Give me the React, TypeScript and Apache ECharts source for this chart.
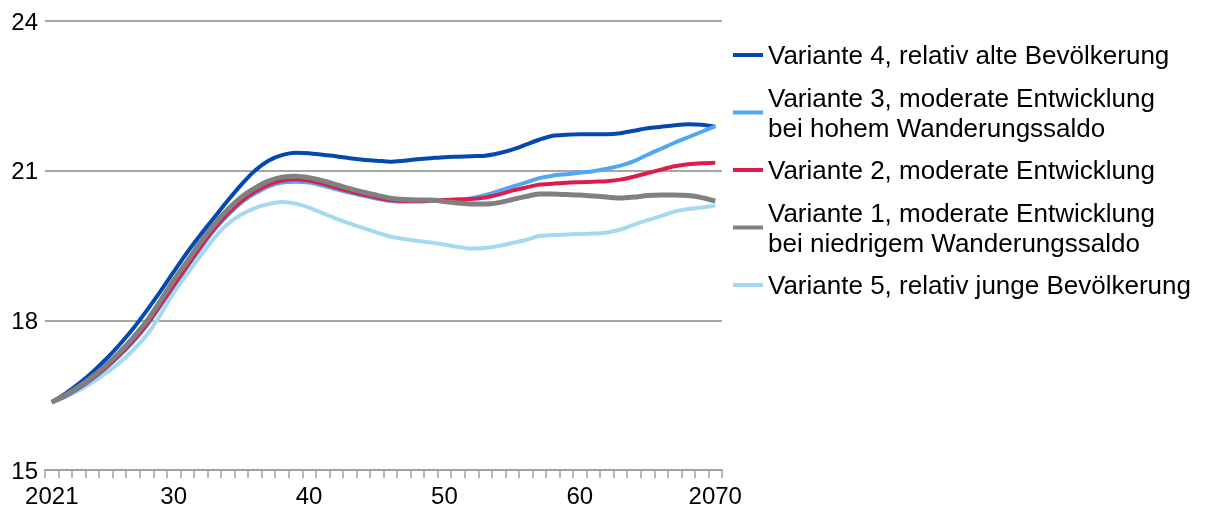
import React, { useEffect, useRef } from "react";
import * as echarts from "echarts";

const years: number[] = [];
for (let y = 2021; y <= 2070; y++) years.push(y);

const seriesNames = [
  "Variante 4, relativ alte Bevölkerung",
  "Variante 3, moderate Entwicklung\nbei hohem Wanderungssaldo",
  "Variante 2, moderate Entwicklung",
  "Variante 1, moderate Entwicklung\nbei niedrigem Wanderungssaldo",
  "Variante 5, relativ junge Bevölkerung",
];

const v4 = [
  16.36, 16.53, 16.73, 16.96, 17.22, 17.51, 17.83, 18.19, 18.57, 18.97,
  19.36, 19.72, 20.06, 20.40, 20.72, 21.0, 21.2, 21.31, 21.36, 21.35,
  21.32, 21.29, 21.25, 21.22, 21.2, 21.18, 21.2, 21.23, 21.25, 21.27,
  21.28, 21.29, 21.3, 21.35, 21.42, 21.52, 21.62, 21.7, 21.72, 21.73,
  21.73, 21.73, 21.75, 21.8, 21.85, 21.88, 21.91, 21.93, 21.92, 21.88,
];
const v3 = [
  16.36, 16.47, 16.63, 16.82, 17.04, 17.29, 17.57, 17.89, 18.28, 18.68,
  19.07, 19.45, 19.81, 20.11, 20.36, 20.54, 20.68, 20.76, 20.78, 20.76,
  20.7, 20.63, 20.56, 20.5, 20.44, 20.39, 20.38, 20.38, 20.39, 20.4,
  20.42, 20.45, 20.51, 20.59, 20.68, 20.76, 20.85, 20.9, 20.93, 20.96,
  20.99, 21.04, 21.1, 21.19, 21.32, 21.44, 21.56, 21.67, 21.78, 21.89,
];
const v2 = [
  16.36, 16.49, 16.65, 16.84, 17.06, 17.31, 17.59, 17.91, 18.3, 18.7,
  19.09, 19.48, 19.84, 20.14, 20.39, 20.58, 20.72, 20.8, 20.83, 20.8,
  20.74, 20.66, 20.59, 20.52, 20.46, 20.41, 20.39, 20.39, 20.4, 20.41,
  20.42, 20.43, 20.46, 20.52, 20.6, 20.66, 20.72, 20.74, 20.76, 20.77,
  20.78, 20.79, 20.82, 20.88, 20.95, 21.02, 21.09, 21.13, 21.15, 21.16,
];
const v1 = [
  16.36, 16.5, 16.67, 16.87, 17.1, 17.36, 17.65, 17.98, 18.38, 18.8,
  19.18, 19.57, 19.92, 20.22, 20.47, 20.65, 20.79, 20.87, 20.89, 20.86,
  20.8, 20.72, 20.64, 20.57, 20.51, 20.45, 20.42, 20.41, 20.41, 20.38,
  20.35, 20.33, 20.33, 20.36, 20.42, 20.48, 20.53, 20.53, 20.52, 20.51,
  20.49, 20.47, 20.45, 20.47, 20.5, 20.51, 20.51, 20.5, 20.46, 20.39,
];
const v5 = [
  16.36, 16.47, 16.6, 16.76, 16.94, 17.15, 17.4, 17.7, 18.1, 18.55,
  18.93, 19.3, 19.65, 19.93, 20.12, 20.25, 20.33, 20.37, 20.34, 20.26,
  20.15, 20.04, 19.94, 19.85, 19.76, 19.68, 19.63, 19.59, 19.56, 19.52,
  19.47, 19.44, 19.45, 19.49, 19.55, 19.61, 19.69, 19.71, 19.72, 19.73,
  19.74, 19.76, 19.82, 19.92, 20.01, 20.09, 20.18, 20.23, 20.26, 20.3,
];

const yTicks = [15, 18, 21, 24];
const labelYears = [2021, 2030, 2040, 2050, 2060, 2070];

const colors = ["#0349b0", "#52a7f2", "#dc1d4b", "#808080", "#a5d9f1"];
const widths = [4, 4, 4, 5, 4];
const zs = [2, 3, 4, 5, 2];
const dataSets = [v4, v3, v2, v1, v5];

const FONT = "'Liberation Sans', Arial, sans-serif";

export default function App() {
  const ref = useRef<HTMLDivElement>(null);
  useEffect(() => {
    if (!ref.current) return;
    const chart = echarts.init(ref.current, null, { renderer: "svg" });
    chart.setOption({
      animation: false,
      textStyle: { fontFamily: FONT },
      grid: { left: 45, right: 492, top: 21, bottom: 40, containLabel: false },
      legend: {
        orient: "vertical",
        left: 728,
        top: 35,
        icon: "rect",
        itemWidth: 30,
        itemHeight: 4,
        itemGap: 12.5,
        selectedMode: false,
        data: seriesNames,
        textStyle: {
          fontFamily: FONT,
          fontSize: 26,
          color: "#000",
          lineHeight: 30,
        },
      },
      xAxis: {
        type: "category",
        data: years.map(String),
        boundaryGap: true,
        axisLine: { lineStyle: { color: "#a0a0a0", width: 2 } },
        axisTick: {
          show: true,
          interval: 0,
          length: 8,
          lineStyle: { color: "#a0a0a0", width: 1.5 },
        },
        axisLabel: {
          interval: (idx: number, val: string) => labelYears.includes(Number(val)),
          formatter: (val: string) => {
            const y = Number(val);
            if (y === 2021 || y === 2070) return val;
            return val.slice(2);
          },
          fontSize: 24,
          color: "#000",
          fontFamily: FONT,
          margin: 13,
        },
        splitLine: { show: false },
      },
      yAxis: {
        type: "value",
        min: yTicks[0],
        max: yTicks[yTicks.length - 1],
        interval: 3,
        axisLine: { show: false },
        axisTick: { show: false },
        axisLabel: { fontSize: 24, color: "#000", fontFamily: FONT, margin: 7 },
        splitLine: { lineStyle: { color: "#a6a6a6", width: 2 } },
      },
      series: seriesNames.map((name, i) => ({
        name,
        type: "line",
        data: dataSets[i],
        smooth: 0.3,
        showSymbol: false,
        symbol: "none",
        z: zs[i],
        color: colors[i],
        lineStyle: { color: colors[i], width: widths[i] },
      })),
    });
    return () => chart.dispose();
  }, []);
  return (
    <div
      ref={ref}
      style={{ position: "fixed", left: 0, top: 0, width: 1214, height: 510 }}
    />
  );
}
